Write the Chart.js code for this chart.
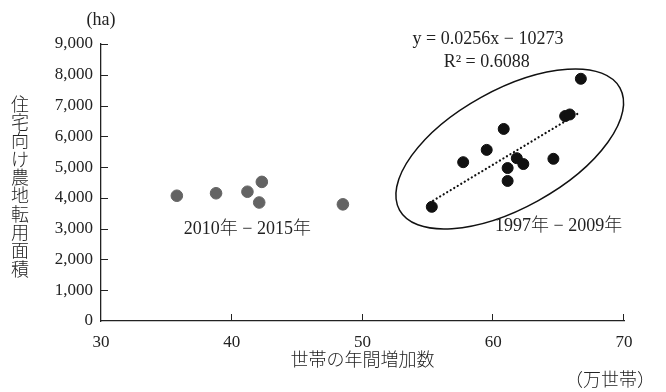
<!DOCTYPE html>
<html>
<head>
<meta charset="utf-8">
<script src="https://cdn.jsdelivr.net/npm/chart.js@4.4.0/dist/chart.umd.min.js"></script>
<style>
  body { margin: 0; background: #fff; }
</style>
</head>
<body>
<canvas id="chart" width="666" height="392"></canvas>
<script>
// 2010-2015 (grey)
const recentX = [35.8, 38.8, 41.2, 42.3, 42.1, 48.5];
const recentY = [4070, 4150, 4200, 4520, 3850, 3790];
// 1997-2009 (black)
const earlyX = [66.7, 65.5, 65.85, 60.8, 59.5, 57.7, 61.8, 62.3, 61.1, 61.1, 64.6, 55.3];
const earlyY = [7870, 6660, 6710, 6240, 5560, 5160, 5290, 5100, 4970, 4550, 5270, 3710];
// dotted regression line, endpoints
const trendX = [55.4, 66.6];
const trendY = [3910, 6770];

const xTitle = "世帯の年間増加数";
const yTitle = "住宅向け農地転用面積";

const SERIF = '"Liberation Serif", "Noto Sans CJK JP", serif';
const INK = "#222";

const toPoints = (xs, ys) => xs.map((v, i) => ({ x: v, y: ys[i] }));

// texts placed in data units
const notes = [
  { text: "y = 0.0256x − 10273", x: 59.6, y: 9140 },
  { text: "R² = 0.6088", x: 59.5, y: 8400 },
  { text: "1997年 − 2009年", x: 65.0, y: 3070 },
  { text: "2010年 − 2015年", x: 41.2, y: 2990 },
];

const extras = {
  id: "extras",
  afterDraw(chart) {
    const { ctx, chartArea: area, scales: { x, y } } = chart;
    ctx.save();
    ctx.strokeStyle = INK;
    ctx.lineWidth = 1;

    // inward tick marks
    y.ticks.forEach(t => {
      if (t.value === 0) return;
      const py = Math.round(y.getPixelForValue(t.value)) + 0.5;
      ctx.beginPath();
      ctx.moveTo(area.left, py);
      ctx.lineTo(area.left + 7, py);
      ctx.stroke();
    });
    x.ticks.forEach(t => {
      if (t.value === 30) return;
      const px = Math.round(x.getPixelForValue(t.value)) - 0.5;
      ctx.beginPath();
      ctx.moveTo(px, area.bottom);
      ctx.lineTo(px, area.bottom - 7);
      ctx.stroke();
    });

    // ellipse around 1997-2009 group
    ctx.lineWidth = 1.5;
    ctx.strokeStyle = "#111";
    ctx.beginPath();
    ctx.ellipse(x.getPixelForValue(61.26), y.getPixelForValue(5590), 126, 59, -29 * Math.PI / 180, 0, Math.PI * 2);
    ctx.stroke();

    // notes
    ctx.fillStyle = INK;
    ctx.textAlign = "center";
    ctx.textBaseline = "middle";
    ctx.font = "300 18px " + SERIF;
    notes.forEach(n => ctx.fillText(n.text, x.getPixelForValue(n.x), y.getPixelForValue(n.y)));

    // units
    ctx.fillText("(ha)", area.left, 20);
    ctx.fillText("（万世帯）", 610, 381);

    // axis titles
    ctx.fillText(xTitle, (area.left + area.right) / 2, 361);
    const mid = (area.top + area.bottom) / 2 + 6;
    const step = 18.3;
    [...yTitle].forEach((ch, i) => {
      ctx.fillText(ch, 20, mid + (i - (yTitle.length - 1) / 2) * step);
    });
    ctx.restore();
  }
};

new Chart(document.getElementById("chart"), {
  type: "scatter",
  data: {
    datasets: [
      {
        label: "1997-2009",
        data: toPoints(earlyX, earlyY),
        backgroundColor: "#111",
        borderColor: "#111",
        pointRadius: 5.5,
        order: 1,
      },
      {
        label: "2010-2015",
        data: toPoints(recentX, recentY),
        backgroundColor: "#636363",
        borderColor: "#636363",
        pointRadius: 5.8,
        order: 2,
      },
      {
        label: "trend",
        data: toPoints(trendX, trendY),
        showLine: true,
        pointRadius: 0,
        borderColor: "#111",
        borderWidth: 2.2,
        borderDash: [0.1, 4],
        borderCapStyle: "round",
        order: 3,
      },
    ],
  },
  options: {
    responsive: false,
    animation: false,
    layout: { padding: { left: 0, top: 44, right: 42, bottom: 0 } },
    plugins: {
      legend: { display: false },
      tooltip: { enabled: false },
    },
    scales: {
      x: {
        type: "linear",
        min: 30,
        max: 70,
        grid: { display: false, drawTicks: false },
        border: { display: true, color: INK, width: 1.3 },
        ticks: {
          stepSize: 10,
          padding: 11,
          color: INK,
          font: { family: SERIF, size: 17 },
        },
        afterFit: s => { s.height = 71; },
      },
      y: {
        min: 0,
        max: 9000,
        grid: { display: false, drawTicks: false },
        border: { display: true, color: INK, width: 1.3 },
        ticks: {
          stepSize: 1000,
          padding: 8,
          color: INK,
          font: { family: SERIF, size: 17 },
          callback: v => String(v).replace(/\B(?=(\d{3})+(?!\d))/g, ","),
        },
        afterFit: s => { s.width = 101; },
      },
    },
  },
  plugins: [extras],
});
</script>
</body>
</html>
